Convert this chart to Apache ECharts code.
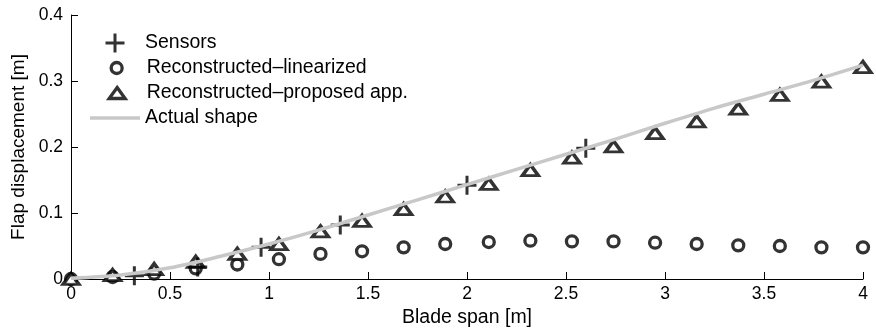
<!DOCTYPE html>
<html>
<head>
<meta charset="utf-8">
<script src="https://cdn.jsdelivr.net/npm/echarts@6/dist/echarts.min.js"></script>
<style>
html,body{margin:0;padding:0;background:#fff;}
#chart{width:876px;height:333px;}
</style>
</head>
<body>
<div id="chart"></div>
<script>
// ---- data ----
const xTicks = [0, 0.5, 1, 1.5, 2, 2.5, 3, 3.5, 4];
const yTicks = [0, 0.1, 0.2, 0.3, 0.4];

const sensorX = [0.32, 0.64, 0.96, 1.36, 2.0, 2.6];
const sensorY = [0.005, 0.018, 0.048, 0.082, 0.142, 0.198];

const reconX = [0, 0.21, 0.42, 0.63, 0.84, 1.05, 1.26, 1.47, 1.68, 1.89, 2.11, 2.32, 2.53, 2.74, 2.95, 3.16, 3.37, 3.58, 3.79, 4.0];
const linearizedY = [0, 0.003, 0.008, 0.016, 0.022, 0.030, 0.038, 0.042, 0.048, 0.053, 0.056, 0.058, 0.057, 0.057, 0.055, 0.053, 0.051, 0.050, 0.048, 0.048];
const proposedY = [0, 0.006, 0.015, 0.026, 0.038, 0.053, 0.072, 0.088, 0.106, 0.125, 0.144, 0.165, 0.184, 0.201, 0.221, 0.239, 0.258, 0.279, 0.299, 0.321];

const actualX = [0, 0.25, 0.5, 0.75, 1.0, 1.25, 1.5, 1.75, 2.0, 2.25, 2.5, 2.75, 3.0, 3.25, 3.5, 3.75, 4.0];
const actualY = [0.001, 0.006, 0.017, 0.034, 0.053, 0.074, 0.097, 0.120, 0.143, 0.166, 0.189, 0.212, 0.236, 0.259, 0.280, 0.301, 0.324];

const names = ['Sensors', 'Reconstructed\u2013linearized', 'Reconstructed\u2013proposed app.', 'Actual shape'];

// ---- build ----
const zip = (xs, ys) => xs.map((x, i) => [x, ys[i]]);
const FONT = '"Liberation Sans", Arial, Helvetica, sans-serif';
const plusPath = 'path://M8,0H11V8H19V11H11V19H8V11H0V8H8Z';

function legendRow(top, left, w, h, pad, item) {
  return {
    orient: 'vertical', left: left, top: top, padding: 0,
    itemWidth: w, itemHeight: h, selectedMode: false,
    textStyle: { fontFamily: FONT, fontSize: 19.5, color: '#000', padding: [0, 0, 0, pad] },
    data: [item]
  };
}

const chart = echarts.init(document.getElementById('chart'), null, { renderer: 'canvas' });
chart.setOption({
  animation: false,
  backgroundColor: '#fff',
  grid: { left: 71, right: 13, top: 15, bottom: 54, containLabel: false },
  xAxis: {
    type: 'value', min: xTicks[0], max: xTicks[xTicks.length - 1], interval: 0.5,
    name: 'Blade span [m]', nameLocation: 'middle', nameGap: 27,
    nameTextStyle: { fontFamily: FONT, fontSize: 19.5, color: '#000' },
    axisLine: { show: true, onZero: false, lineStyle: { color: '#000', width: 1 } },
    axisTick: { show: true, inside: true, length: 7, lineStyle: { color: '#000' } },
    axisLabel: { fontFamily: FONT, fontSize: 17.5, color: '#000', margin: 6 },
    splitLine: { show: false }
  },
  yAxis: {
    type: 'value', min: yTicks[0], max: yTicks[yTicks.length - 1], interval: 0.1,
    name: 'Flap displacement [m]', nameLocation: 'middle', nameGap: 35,
    nameTextStyle: { fontFamily: FONT, fontSize: 19, color: '#000' },
    axisLine: { show: true, onZero: false, lineStyle: { color: '#000', width: 1 } },
    axisTick: { show: true, inside: true, length: 7, lineStyle: { color: '#000' } },
    axisLabel: { fontFamily: FONT, fontSize: 17.5, color: '#000', margin: 8 },
    splitLine: { show: false }
  },
  legend: [
    legendRow(33, 105.5, 19, 19, 15.5,
      { name: names[0], icon: plusPath, itemStyle: { color: '#000', borderWidth: 0 } }),
    legendRow(58, 109.5, 11, 11, 19.5,
      { name: names[1], icon: 'circle', itemStyle: { color: '#fff', borderColor: '#000', borderWidth: 3.3 } }),
    legendRow(83, 107.5, 16, 11, 16.5,
      { name: names[2], icon: 'triangle', itemStyle: { color: '#fff', borderColor: '#000', borderWidth: 3.3 } }),
    legendRow(108, 90, 50, 3.5, 0,
      { name: names[3], icon: 'rect', itemStyle: { color: '#c8c8c8', borderWidth: 0 } })
  ],
  series: [
    {
      name: names[0], type: 'scatter', data: zip(sensorX, sensorY),
      symbol: plusPath, symbolSize: 19, z: 3,
      itemStyle: { color: '#000', borderWidth: 0 }
    },
    {
      name: names[1], type: 'scatter', data: zip(reconX, linearizedY),
      symbol: 'circle', symbolSize: 11, z: 2,
      itemStyle: { color: '#fff', borderColor: '#000', borderWidth: 3.3 }
    },
    {
      name: names[2], type: 'scatter', data: zip(reconX, proposedY),
      symbol: 'triangle', symbolSize: [16, 11], z: 2,
      itemStyle: { color: '#fff', borderColor: '#000', borderWidth: 3.3 }
    },
    {
      name: names[3], type: 'line', data: zip(actualX, actualY),
      symbol: 'none', smooth: 0.3, z: 5,
      lineStyle: { color: '#c8c8c8', width: 3.5 },
      itemStyle: { color: '#c8c8c8' }
    }
  ]
});
</script>
</body>
</html>
